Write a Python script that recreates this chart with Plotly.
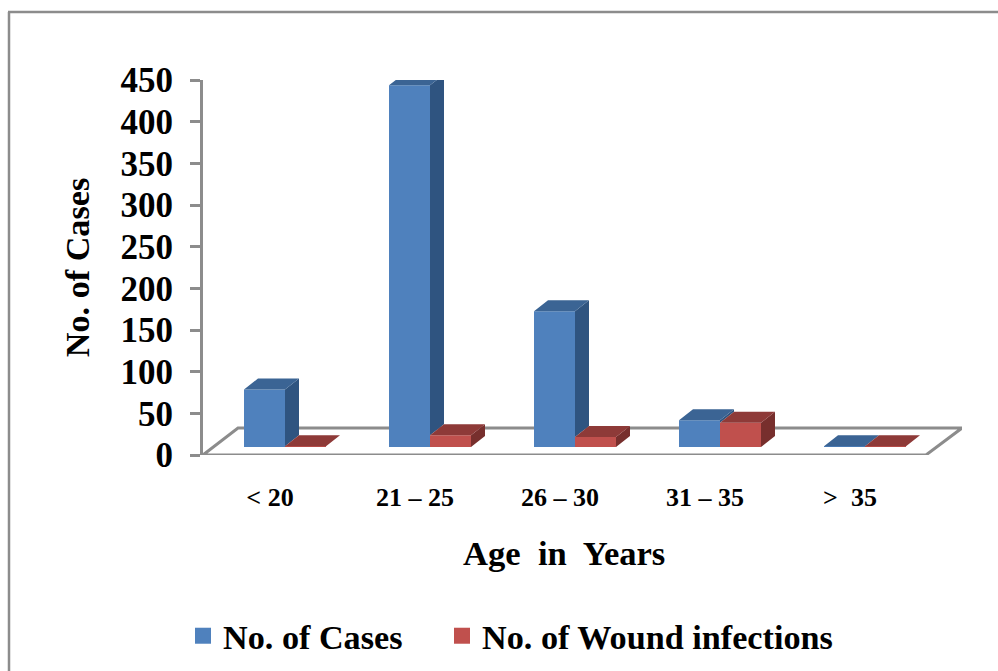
import plotly.graph_objects as go

categories = ["< 20", "21 – 25", "26 – 30", "31 – 35", ">  35"]
cases = [69, 434, 163, 32, 1]
wounds = [1, 14, 12, 29, 1]
y_ticks = [0, 50, 100, 150, 200, 250, 300, 350, 400, 450]

W, H = 998, 671
L, R, T, B = 203, 962, 80, 455          # plot box in page pixels
CAT_PX = 145.0                          # pixels per category
PX_Y = (B - T) / 450                    # pixels per unit of value
X0 = (270 - L) / CAT_PX                 # first category sits at x = 0
X_RANGE = [-X0, (R - L) / CAT_PX - X0]

BAR_W = 41 / CAT_PX
DEPTH_X = 14 / CAT_PX
DEPTH_Y = 11 / PX_Y
BASE = 8 / PX_Y
BLUE_X = 15 / CAT_PX - BAR_W / 2
RED_X = BLUE_X + BAR_W

COL = {
    "blue": ("#4F81BD", "#3B6494", "#2F5480"),
    "red": ("#C0504D", "#8E3A38", "#772F2D"),
}
GRAY = "#8C8C8C"
FONT = "Liberation Serif"


def polys(shapes):
    xs, ys = [], []
    for s in shapes:
        xs += [p[0] for p in s] + [s[0][0], None]
        ys += [p[1] for p in s] + [s[0][1], None]
    return xs, ys


def side_faces(centers, values, floors):
    out = []
    for c, v, f in zip(centers, values, floors):
        r = c + BAR_W / 2
        out.append([(r, BASE + f), (r + DEPTH_X, BASE + f + DEPTH_Y),
                    (r + DEPTH_X, BASE + v + DEPTH_Y), (r, BASE + v)])
    return out


def top_faces(centers, values):
    out = []
    for c, v in zip(centers, values):
        l, r = c - BAR_W / 2, c + BAR_W / 2
        out.append([(l, BASE + v), (r, BASE + v),
                    (r + DEPTH_X, BASE + v + DEPTH_Y), (l + DEPTH_X, BASE + v + DEPTH_Y)])
    return out


def face(shapes, color):
    xs, ys = polys(shapes)
    return go.Scatter(x=xs, y=ys, mode="lines", fill="toself", fillcolor=color,
                      line=dict(width=0), showlegend=False, hoverinfo="skip",
                      cliponaxis=False)


idx = list(range(len(categories)))
blue_c = [i + BLUE_X for i in idx]
red_c = [i + RED_X for i in idx]

fig = go.Figure()
fig.add_trace(go.Bar(x=blue_c, y=cases, base=BASE, width=BAR_W, marker=dict(color=COL["blue"][0], line=dict(width=0)),
                     name="No. of Cases", showlegend=False, cliponaxis=False))
fig.add_trace(go.Bar(x=red_c, y=wounds, base=BASE, width=BAR_W, marker=dict(color=COL["red"][0], line=dict(width=0)),
                     name="No. of Wound infections", showlegend=False, cliponaxis=False))
fig.add_trace(face(side_faces(blue_c, cases, [min(a, b) for a, b in zip(cases, wounds)]), COL["blue"][2]))
fig.add_trace(face(top_faces(blue_c, cases), COL["blue"][1]))
fig.add_trace(face(side_faces(red_c, wounds, [0] * len(wounds)), COL["red"][2]))
fig.add_trace(face(top_faces(red_c, wounds), COL["red"][1]))

# legend keys
fig.add_trace(go.Scatter(x=[None], y=[None], mode="markers", name="No. of Cases", legend="legend",
                         marker=dict(symbol="square", size=18, color=COL["blue"][0])))
fig.add_trace(go.Scatter(x=[None], y=[None], mode="markers", name="No. of Wound infections", legend="legend2",
                         marker=dict(symbol="square", size=18, color=COL["red"][0])))

# floor outline
floor_x = [-X0, (238 - 270) / CAT_PX, (R - 270) / CAT_PX, (926 - 270) / CAT_PX, -X0]
floor_y = [0, (B - 428) / PX_Y, (B - 428) / PX_Y, 0, 0]
path = "M " + " L ".join(f"{a},{b}" for a, b in zip(floor_x[:-1], floor_y[:-1])) + " Z"
fig.add_shape(type="path", path=path, xref="x", yref="y", layer="below",
              line=dict(color=GRAY, width=3))


# outer frame
def px(v):
    return (v - L) / (R - L)


def py(v):
    return (B - v) / (B - T)


fig.add_shape(type="line", xref="paper", yref="paper", x0=px(9), x1=px(9), y0=py(12), y1=py(H),
              line=dict(color=GRAY, width=2.5))
fig.add_shape(type="line", xref="paper", yref="paper", x0=px(8), x1=px(W), y0=py(12), y1=py(12),
              line=dict(color=GRAY, width=2.5))

legend_font = dict(family=FONT, size=34.2, color="black", weight="bold")
fig.add_annotation(text="Age  in  Years", xref="paper", yref="paper", x=px(564), y=py(553),
                   xanchor="center", yanchor="middle", showarrow=False,
                   font=dict(family=FONT, size=34.6, color="black", weight="bold"))
fig.update_layout(
    width=W, height=H, paper_bgcolor="white", plot_bgcolor="white",
    margin=dict(l=L, r=W - R, t=T, b=H - B, pad=0, autoexpand=False),
    barmode="overlay", autosize=False,
    font=dict(family=FONT, color="black"),
    legend=dict(x=px(183), xanchor="left", y=py(636), yanchor="middle", font=legend_font,
                bgcolor="rgba(0,0,0,0)", itemwidth=30),
    legend2=dict(x=px(442), xanchor="left", y=py(636), yanchor="middle", font=legend_font,
                 bgcolor="rgba(0,0,0,0)", itemwidth=30),
    xaxis=dict(range=X_RANGE, tickmode="array", tickvals=idx, ticktext=categories,
               showgrid=False, zeroline=False, showline=False,
               ticks="outside", ticklen=19, tickcolor="rgba(0,0,0,0)",
               tickfont=dict(family=FONT, size=26, color="black", weight="bold")),
    yaxis=dict(range=[0, 450], tickmode="array", tickvals=y_ticks,
               showgrid=False, zeroline=False, showline=True, linecolor=GRAY, linewidth=3,
               ticks="outside", ticklen=10, tickwidth=2.5, tickcolor=GRAY, ticklabelstandoff=10,
               tickfont=dict(family=FONT, size=35, color="black", weight="bold"),
               title=dict(text="No. of Cases", standoff=21,
                          font=dict(family=FONT, size=34.2, color="black", weight="bold"))),
)

fig.write_html("out.html", config=dict(displayModeBar=False),
               post_script="document.body.style.margin='0';")
